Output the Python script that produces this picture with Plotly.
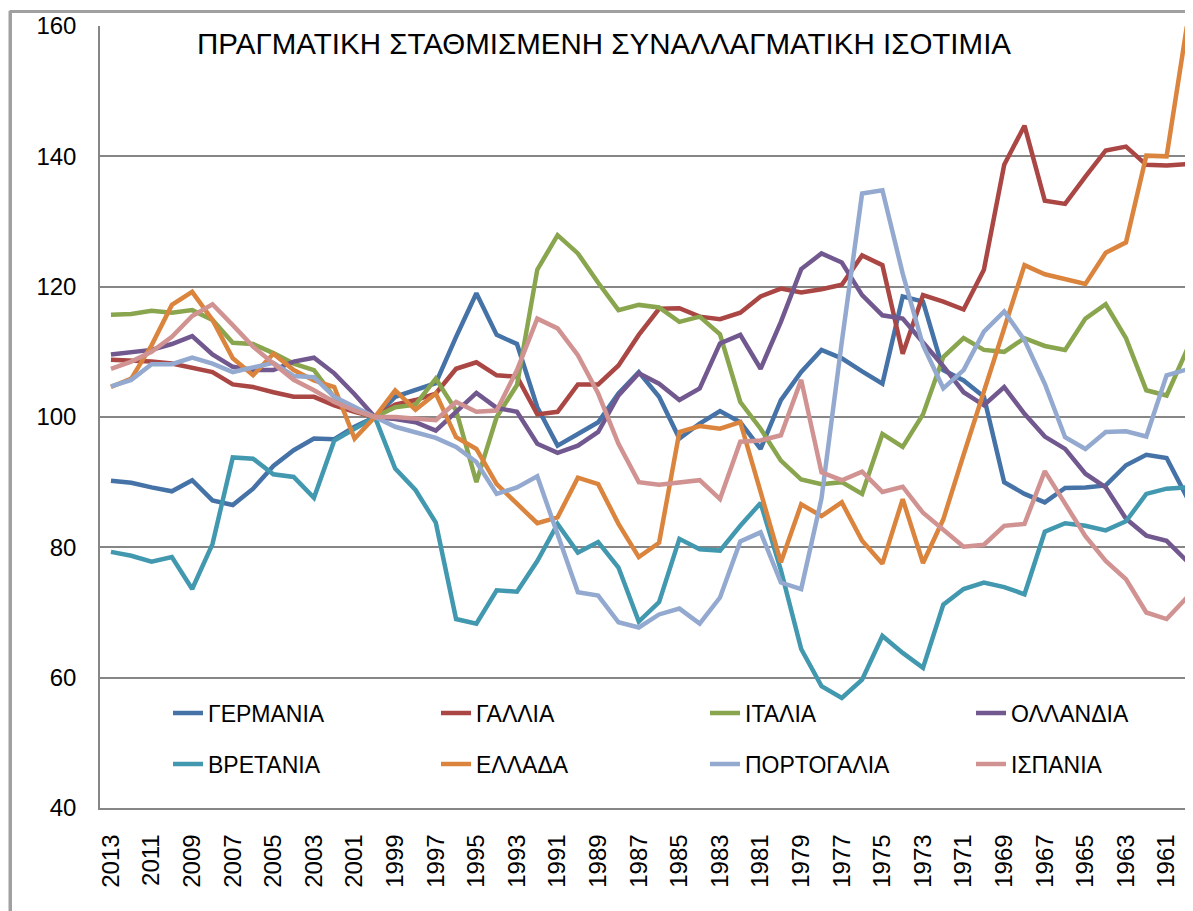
import plotly.graph_objects as go

years = list(range(2013, 1959, -1))

germany = [90.2, 89.9, 89.2, 88.6, 90.3, 87.2, 86.5, 89.0, 92.5, 94.9, 96.7, 96.6, 98.5, 100.0,
           103.1, 104.2, 105.2, 112.3, 119.0, 112.6, 111.2, 101.5, 95.6, 97.4, 99.2, 103.6, 106.9, 103.1,
           96.7, 99.0, 100.9, 99.2, 95.1, 102.6, 106.9, 110.3, 109.0, 107.0, 105.1, 118.5, 117.7, 107.2,
           105.6, 103.1, 90.0, 88.2, 86.9, 89.1, 89.2, 89.5, 92.6, 94.2, 93.7, 87.7]
france = [108.8, 108.7, 108.5, 108.2, 107.6, 106.9, 105.0, 104.6, 103.8, 103.1, 103.1, 101.8, 100.8, 100.0,
          101.9, 102.6, 103.6, 107.4, 108.4, 106.4, 106.2, 100.4, 100.8, 105.0, 105.0, 107.9, 112.6, 116.6,
          116.7, 115.4, 115.0, 116.0, 118.5, 119.7, 119.1, 119.6, 120.3, 124.8, 123.3, 109.7, 118.7, 117.7,
          116.5, 122.6, 138.7, 144.7, 133.2, 132.7, 136.9, 140.9, 141.5, 138.7, 138.6, 138.8]
italy = [115.7, 115.8, 116.3, 116.0, 116.4, 114.9, 111.4, 111.2, 109.8, 108.2, 107.2, 103.0, 101.0, 100.0,
         101.5, 101.9, 105.9, 101.0, 90.0, 100.0, 104.9, 122.6, 127.9, 125.1, 120.6, 116.4, 117.2, 116.8,
         114.6, 115.4, 112.7, 102.3, 98.2, 93.3, 90.4, 89.7, 90.0, 88.2, 97.4, 95.4, 100.4, 109.2,
         112.1, 110.3, 110.0, 112.1, 110.9, 110.3, 115.1, 117.3, 112.1, 104.1, 103.3, 110.3]
netherlands = [109.6, 110.0, 110.3, 111.2, 112.4, 109.6, 107.7, 107.2, 107.2, 108.5, 109.1, 106.7, 103.5, 100.0,
               99.7, 99.2, 97.9, 100.8, 103.7, 101.4, 100.8, 95.9, 94.5, 95.6, 97.7, 103.3, 106.7, 105.1,
               102.6, 104.4, 111.3, 112.6, 107.4, 114.6, 122.7, 125.1, 123.7, 118.7, 115.6, 115.1, 111.5, 107.8,
               103.8, 101.8, 104.6, 100.5, 97.0, 95.1, 91.3, 89.2, 84.4, 81.8, 81.0, 77.9]
britain = [79.3, 78.7, 77.8, 78.5, 73.6, 80.5, 93.8, 93.6, 91.2, 90.8, 87.6, 96.4, 98.2, 100.0,
           92.1, 88.8, 83.8, 69.0, 68.3, 73.4, 73.2, 77.9, 83.6, 79.2, 80.8, 76.9, 68.6, 71.6,
           81.3, 79.7, 79.5, 83.3, 86.8, 76.5, 64.4, 58.7, 56.9, 59.7, 66.4, 63.8, 61.5, 71.2,
           73.6, 74.6, 73.9, 72.8, 82.4, 83.7, 83.3, 82.6, 84.0, 88.2, 89.0, 89.2]
greece = [104.6, 105.9, 111.0, 117.2, 119.2, 114.9, 109.0, 106.4, 109.7, 107.2, 105.6, 104.6, 96.7, 100.0,
          104.1, 101.1, 103.6, 96.9, 95.1, 89.7, 86.7, 83.7, 84.6, 90.7, 89.7, 83.6, 78.5, 80.7,
          97.7, 98.6, 98.2, 99.2, 88.5, 77.7, 86.6, 84.8, 86.9, 81.0, 77.5, 87.4, 77.6, 84.3,
          94.2, 103.9, 113.6, 123.3, 121.9, 121.1, 120.4, 125.2, 126.8, 140.1, 140.0, 160.0]
portugal = [104.7, 105.7, 108.1, 108.1, 109.1, 108.2, 106.9, 107.6, 108.3, 106.3, 106.1, 103.1, 101.5, 100.0,
            98.5, 97.7, 96.8, 95.4, 93.1, 88.2, 89.2, 90.9, 82.0, 73.1, 72.6, 68.5, 67.7, 69.7,
            70.6, 68.3, 72.3, 80.9, 82.3, 74.6, 73.6, 87.5, 111.5, 134.3, 134.8, 122.0, 111.0, 104.4,
            107.2, 113.1, 116.2, 111.8, 105.1, 96.9, 95.1, 97.7, 97.8, 97.0, 106.4, 107.3]
spain = [107.4, 108.5, 110.0, 112.3, 115.5, 117.3, 114.1, 110.8, 108.2, 105.7, 104.1, 102.3, 101.0, 100.0,
         100.0, 99.7, 99.5, 102.3, 100.8, 101.0, 107.2, 115.1, 113.6, 109.5, 103.6, 95.9, 90.0, 89.6,
         90.0, 90.3, 87.4, 96.2, 96.4, 97.2, 105.7, 91.5, 90.3, 91.6, 88.5, 89.3, 85.3, 82.6,
         80.1, 80.4, 83.3, 83.6, 91.7, 86.7, 81.7, 77.9, 75.1, 70.0, 69.0, 72.3]

names = ["ΓΕΡΜΑΝΙΑ", "ΓΑΛΛΙΑ", "ΙΤΑΛΙΑ", "ΟΛΛΑΝΔΙΑ", "ΒΡΕΤΑΝΙΑ", "ΕΛΛΑΔΑ", "ΠΟΡΤΟΓΑΛΙΑ", "ΙΣΠΑΝΙΑ"]
series = [germany, france, italy, netherlands, britain, greece, portugal, spain]
colors = ["#4572A7", "#AA4643", "#89A54E", "#71588F", "#4198AF", "#DB843D", "#93A9CF", "#D19392"]

tick_years = years[::2]
tick_labels = [str(y) for y in tick_years]
title_text = "ΠΡΑΓΜΑΤΙΚΗ ΣΤΑΘΜΙΣΜΕΝΗ ΣΥΝΑΛΛΑΓΜΑΤΙΚΗ ΙΣΟΤΙΜΙΑ"

FONT = "Liberation Sans, Arial, sans-serif"
OFF = 8  # default page body margin
W, H = 1193 - OFF, 911 - OFF
# target screen-pixel geometry
S_LEFT, S_TOP, S_BOTTOM = 100, 26, 808
ML = S_LEFT - OFF
MT = S_TOP - OFF
MB = H - (S_BOTTOM - OFF)
plot_w = W - ML
plot_h = H - MT - MB

def px_x(p):
    return (p - OFF - ML) / plot_w

def px_y(p):
    return (H - MB - (p - OFF)) / plot_h

# legend text starts (screen px) per column and row centers
col_text_x = [208, 476, 745, 1011]
row_y = [713, 764]

fig = go.Figure()
legend_layouts = {}
for i, (n, s, c) in enumerate(zip(names, series, colors)):
    lname = "legend" if i == 0 else f"legend{i + 1}"
    fig.add_trace(go.Scatter(
        x=years, y=s, name=n, mode="lines",
        line=dict(color=c, width=4.5),
        legend=lname,
    ))
    legend_layouts[lname] = dict(
        x=px_x(col_text_x[i % 4] - 40), y=px_y(row_y[i // 4]),
        xanchor="left", yanchor="middle", orientation="v",
        font=dict(family=FONT, size=23, color="#000000"),
        bgcolor="rgba(0,0,0,0)", borderwidth=0,
    )

border_x = px_x(9.5)
border_y = px_y(11)

fig.update_layout(
    width=W, height=H,
    margin=dict(l=ML, r=0, t=MT, b=MB),
    paper_bgcolor="white", plot_bgcolor="white",
    font=dict(family=FONT, size=24, color="#000000"),
    showlegend=True,
    xaxis=dict(
        range=[2013.54, 1959.70], tickmode="array", tickvals=tick_years, ticktext=tick_labels,
        tickangle=-90, showgrid=False, zeroline=False, showline=True,
        linecolor="#868686", linewidth=1.5, ticks="", ticklabelstandoff=15,
        tickfont=dict(family=FONT, size=24, color="#000000"),
    ),
    yaxis=dict(
        range=[40, 160], tickmode="linear", tick0=40, dtick=20,
        showgrid=True, gridcolor="#868686", gridwidth=1.5, zeroline=False,
        showline=True, linecolor="#868686", linewidth=1.5, ticks="", ticklabelstandoff=17,
        tickfont=dict(family=FONT, size=24, color="#000000"),
    ),
    annotations=[
        dict(
            text=title_text, xref="paper", yref="paper",
            x=px_x(195), y=px_y(44), xanchor="left", yanchor="middle",
            showarrow=False, font=dict(family=FONT, size=29.5, color="#000000"),
        ),
        # outer chart-area frame (left and top edges visible, rest runs off the page)
        dict(
            text=" ", xref="paper", yref="paper",
            x=border_x, y=border_y, xanchor="left", yanchor="top",
            width=1400, height=1100, align="left", valign="top",
            showarrow=False, bordercolor="#A0A0A0", borderwidth=2, borderpad=0,
            bgcolor="rgba(0,0,0,0)", font=dict(size=1),
        ),
    ],
    shapes=[
        dict(type="line", xref="paper", yref="paper",
             x0=border_x, x1=1.02, y0=border_y, y1=border_y,
             line=dict(color="#A0A0A0", width=2), layer="above"),
        dict(type="line", xref="paper", yref="paper",
             x0=border_x, x1=border_x, y0=-0.2, y1=border_y,
             line=dict(color="#A0A0A0", width=2), layer="above"),
    ],
    **legend_layouts,
)

fig.write_html("out.html")
